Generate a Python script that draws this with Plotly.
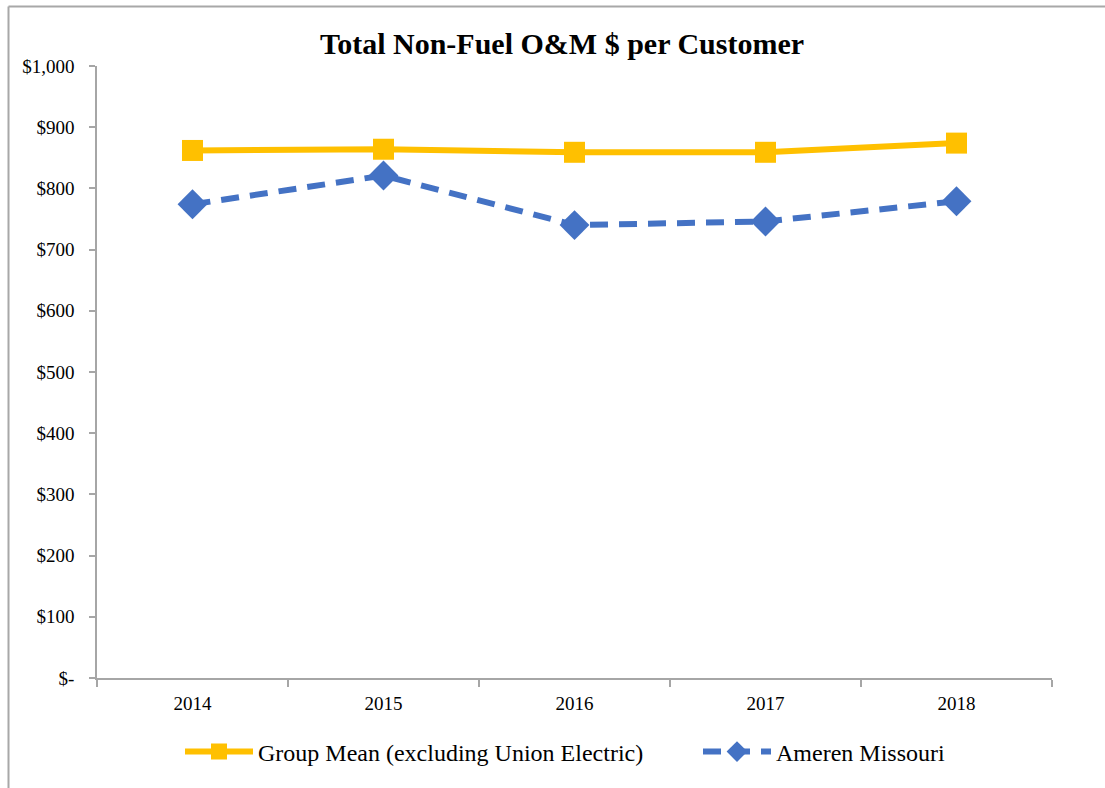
import plotly.graph_objects as go

years = ["2014", "2015", "2016", "2017", "2018"]
group_mean = [862, 864, 859, 859, 874]
ameren = [774, 821, 740, 746, 779]
ytick_vals = [0, 100, 200, 300, 400, 500, 600, 700, 800, 900, 1000]
ytick_text = ["$-", "$100", "$200", "$300", "$400", "$500", "$600", "$700", "$800", "$900", "$1,000"]

FONT = "Liberation Serif"
L, R, T, B = 97, 53, 66, 110
W, H = 1105, 788
pw, ph = W - L - R, H - T - B

def px2x(px):
    return (px - L) / pw

def py2y(py):
    return (H - B - py) / ph

fig = go.Figure()
fig.add_trace(go.Scatter(
    x=years, y=group_mean, mode="lines+markers",
    name="Group Mean (excluding Union Electric)",
    line=dict(color="#FFC000", width=6),
    marker=dict(symbol="square", size=21, color="#FFC000"),
    legend="legend",
))
fig.add_trace(go.Scatter(
    x=years, y=ameren, mode="lines+markers",
    name="Ameren Missouri",
    line=dict(color="#4472C4", width=6, dash="18px,11px"),
    marker=dict(symbol="diamond", size=23, color="#4472C4"),
    legend="legend2",
))

legend_common = dict(
    orientation="h", xanchor="left", yanchor="middle",
    y=py2y(752),
    font=dict(family=FONT, size=24, color="#000000"),
    itemwidth=68, bgcolor="rgba(0,0,0,0)",
)

fig.update_layout(
    width=W, height=H,
    margin=dict(l=L, r=R, t=T, b=B, autoexpand=False),
    paper_bgcolor="white", plot_bgcolor="white",
    font=dict(family=FONT, color="#000000"),
    title=dict(
        text="<b>Total Non-Fuel O&M $ per Customer</b>",
        font=dict(family=FONT, size=30, color="#000000"),
        x=562 / W, xref="container", xanchor="center",
        y=1 - 43 / H, yref="container", yanchor="middle",
    ),
    xaxis=dict(
        type="category", range=[-0.5, 4.5],
        showline=True, linecolor="#a6a6a6", linewidth=1.5,
        ticks="outside", tickson="boundaries", ticklen=7, tickcolor="#a6a6a6",
        tickwidth=1.5, showgrid=False, zeroline=False,
        tickfont=dict(family=FONT, size=19, color="#000000"),
        ticklabelstandoff=7,
    ),
    yaxis=dict(
        range=[0, 1000], tickvals=ytick_vals, ticktext=ytick_text,
        showline=True, linecolor="#a6a6a6", linewidth=1.5,
        ticks="outside", ticklen=6, tickcolor="#a6a6a6", tickwidth=1.5,
        showgrid=False, zeroline=False,
        tickfont=dict(family=FONT, size=19, color="#000000"),
        ticklabelstandoff=11,
    ),
    legend=dict(x=px2x(180), **legend_common),
    legend2=dict(x=px2x(698), **legend_common),
    showlegend=True,
    shapes=[
        dict(type="line", xref="paper", yref="paper",
             x0=px2x(8.5), x1=px2x(1110), y0=py2y(6.5), y1=py2y(6.5),
             line=dict(color="#a8a8a8", width=2)),
        dict(type="line", xref="paper", yref="paper",
             x0=px2x(8.5), x1=px2x(8.5), y0=py2y(6.5), y1=py2y(795),
             line=dict(color="#a8a8a8", width=2)),
    ],
)

fig.write_html("out.html", config={"displayModeBar": False},
               post_script="document.body.style.margin='0';")
